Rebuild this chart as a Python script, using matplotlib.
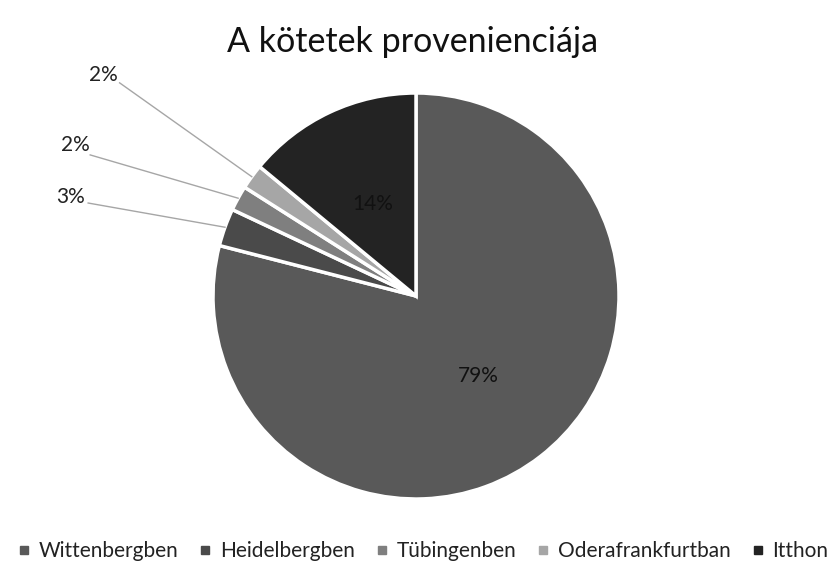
import numpy as np
import matplotlib.pyplot as plt
from matplotlib.lines import Line2D

categories = ['Wittenbergben', 'Heidelbergben', 'Tübingenben', 'Oderafrankfurtban', 'Itthon']
values = [79, 3, 2, 2, 14]
colors = ['#595959', '#4a4a4a', '#7f7f7f', '#a6a6a6', '#232323']

plt.rcParams['font.family'] = ['Lato', 'DejaVu Sans']

W, H = 835, 568
fig = plt.figure(figsize=(W / 100, H / 100), dpi=100)

# pie centre and radius in pixels
cx, cy, r = 416, 296, 203
ax = fig.add_axes([(cx - 1.9 * r) / W, (H - cy - 1.9 * r) / H, 3.8 * r / W, 3.8 * r / H])

wedges, _ = ax.pie(values, colors=colors, startangle=90, counterclock=False,
                   radius=1, wedgeprops=dict(edgecolor='white', linewidth=2.5))
ax.set_xlim(-1.9, 1.9)
ax.set_ylim(-1.9, 1.9)
ax.set_aspect('equal')
ax.axis('off')

total = sum(values)
# inside labels for the big slices, outside with leader lines for the small ones
outside = {1: ((-1.70, 0.49), (-1.615, 0.458)),
           2: ((-1.68, 0.745), (-1.605, 0.695)),
           3: ((-1.54, 1.09), (-1.46, 1.05))}
for i, w in enumerate(wedges):
    mid = np.deg2rad((w.theta1 + w.theta2) / 2)
    pct = '%d%%' % round(values[i] / total * 100)
    if i in outside:
        (tx, ty), (lx, ly) = outside[i]
        ax.plot([lx, np.cos(mid)], [ly, np.sin(mid)], color='#a6a6a6', lw=1)
        ax.text(tx, ty, pct, ha='center', va='center', fontsize=15, color='#222222')
    else:
        ax.text(0.5 * np.cos(mid), 0.5 * np.sin(mid), pct, ha='center', va='center',
                fontsize=15, color='#111111')

fig.text(413 / W, 1 - 42 / H, 'A kötetek provenienciája', ha='center', va='center',
         fontsize=24.5, color='#111111')

handles = [Line2D([], [], marker='s', linestyle='none', markersize=6,
                  markerfacecolor=c, markeredgecolor=c) for c in colors]
fig.legend(handles, categories, loc='center', bbox_to_anchor=(423 / W, 1 - 551 / H),
           ncol=5, frameon=False, fontsize=15, handlelength=0.6, handletextpad=0.4,
           columnspacing=1.0, labelcolor='#222222')

fig.savefig('out.png', dpi=100, facecolor='white')
